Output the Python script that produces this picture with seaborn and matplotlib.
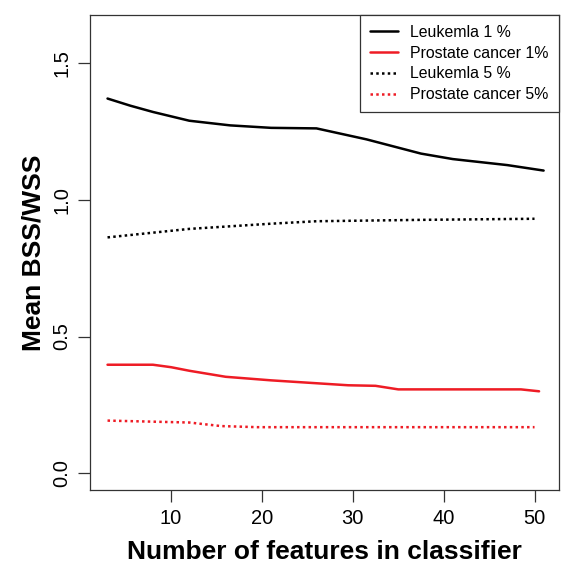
import numpy as np
import pandas as pd
import matplotlib
matplotlib.use("Agg")
import matplotlib.pyplot as plt
import seaborn as sns

sns.set_theme(style="ticks")
plt.rcParams['font.family'] = ['Liberation Sans', 'DejaVu Sans']
plt.rcParams['text.color'] = 'black'
plt.rcParams['axes.labelcolor'] = 'black'

# Data
leuk1_x = [3, 5.5, 8, 12, 16.5, 21, 26, 31.5, 37.5, 41, 47, 51]
leuk1_y = [1.369, 1.343, 1.32, 1.288, 1.271, 1.262, 1.26, 1.22, 1.168, 1.148, 1.126, 1.106]

pros1_x = [3, 8, 10, 12, 16, 21, 29.5, 32.5, 35, 48.5, 50.5]
pros1_y = [0.397, 0.397, 0.388, 0.375, 0.353, 0.34, 0.322, 0.32, 0.307, 0.307, 0.300]

leuk5_x = [3, 12, 21, 26, 37.5, 50]
leuk5_y = [0.862, 0.893, 0.912, 0.921, 0.926, 0.93]

pros5_x = [3, 12, 15.5, 19.5, 50]
pros5_y = [0.193, 0.186, 0.173, 0.169, 0.169]

labels = ["Leukemla 1 %", "Prostate cancer 1%", "Leukemla 5 %", "Prostate cancer 5%"]
xticks = [10, 20, 30, 40, 50]
yticks = [0.0, 0.5, 1.0, 1.5]

series = [
    (leuk1_x, leuk1_y, labels[0], "black", "-"),
    (pros1_x, pros1_y, labels[1], "#EE1C25", "-"),
    (leuk5_x, leuk5_y, labels[2], "black", (0, (1, 1.3))),
    (pros5_x, pros5_y, labels[3], "#EE1C25", (0, (1, 1.3))),
]

fig = plt.figure(figsize=(5.63, 5.67), dpi=100)
ax = fig.add_axes([0.160, 0.136, 0.833, 0.838])

for xs, ys, lab, col, ls in series:
    df = pd.DataFrame({"x": xs, "y": ys})
    sns.lineplot(data=df, x="x", y="y", ax=ax, color=col, linestyle=ls,
                 linewidth=1.8, label=lab)

ax.set_xlim(1.08, 52.7)
ax.set_ylim(-0.06, 1.675)
ax.set_xticks(xticks)
ax.set_xticklabels([str(t) for t in xticks])
ax.set_yticks(yticks)
ax.set_yticklabels([f"{t:.1f}" for t in yticks], rotation=90, va="center")
ax.tick_params(axis="both", direction="out", length=8.6, width=0.9, labelsize=14.5,
               colors="#333333", labelcolor="black", pad=5)
for s in ax.spines.values():
    s.set_color("#333333")
    s.set_linewidth(0.9)

ax.set_xlabel("Number of features in classifier", fontsize=19, fontweight="bold",
              labelpad=9, color="black")
ax.set_ylabel("Mean BSS/WSS", fontsize=19, fontweight="bold", labelpad=5, color="black")

leg = ax.legend(loc="upper right", borderaxespad=0, fancybox=False, framealpha=1,
                edgecolor="#333333", fontsize=11.4, handlelength=1.8,
                labelspacing=0.36, borderpad=0.65, handletextpad=0.75)
leg.get_frame().set_linewidth(0.9)
for t in leg.get_texts():
    t.set_color("black")

fig.savefig("out.png", dpi=100)
